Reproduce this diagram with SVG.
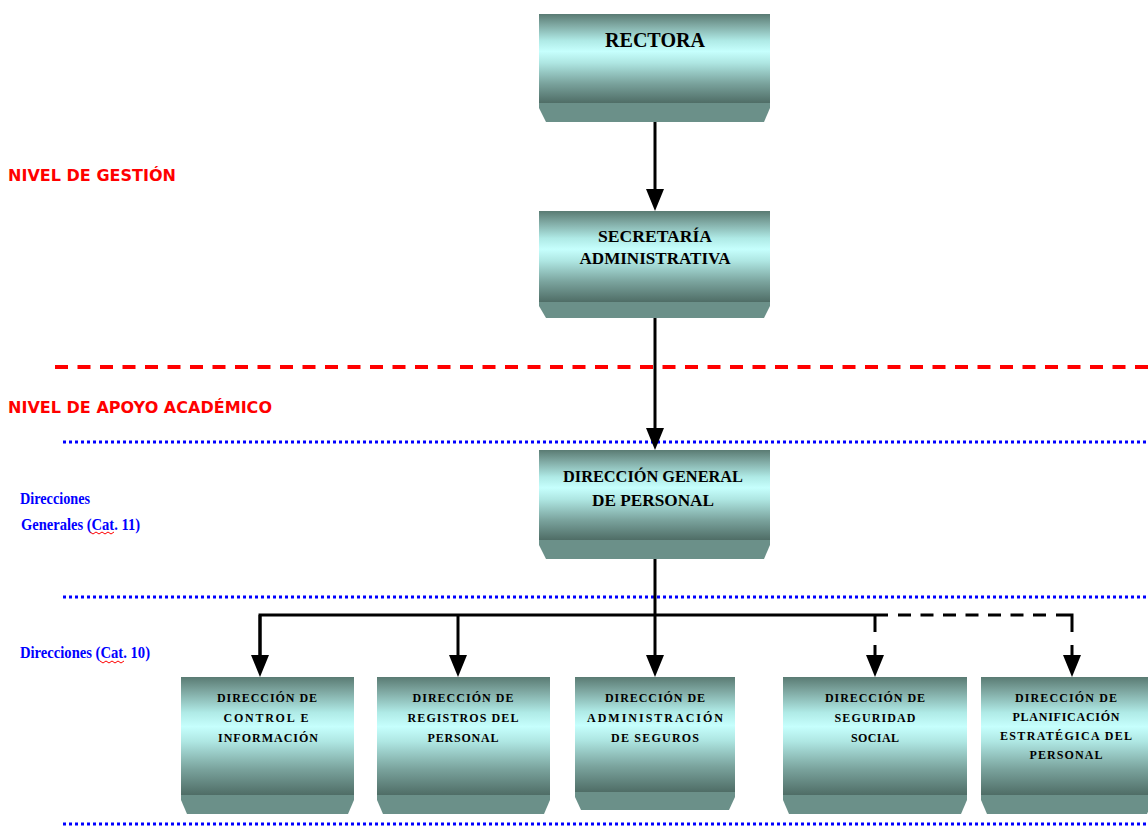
<svg xmlns="http://www.w3.org/2000/svg" width="1148" height="826" viewBox="0 0 1148 826">
<style>
.body{fill:url(#g);}
.trap{fill:#6b9089;}
.t1{font-family:"Liberation Serif","DejaVu Serif",serif;font-weight:bold;fill:#000;text-anchor:middle;}
.big{font-size:20px;}
.mid{font-size:17px;}
.sm{font-size:12px;}
.lvl{font-family:"DejaVu Sans","Liberation Sans",sans-serif;font-weight:bold;font-size:16px;fill:#ff0000;}
.cat{font-family:"Liberation Serif","DejaVu Serif",serif;font-weight:bold;font-size:16px;fill:#0000ff;}
.con{stroke:#000;stroke-width:3;fill:none;}
.blue{stroke:#0000ff;stroke-width:3;stroke-dasharray:3 3;fill:none;}
.red{stroke:#ff0000;stroke-width:4;stroke-dasharray:13 9.5;fill:none;}
.sq{stroke:#ff0000;stroke-width:1;fill:none;}
</style>
<defs>
<linearGradient id="g" x1="0" y1="0" x2="0" y2="1">
<stop offset="0" stop-color="#5a7b73"/>
<stop offset="0.12" stop-color="#7ea7a1"/>
<stop offset="0.3" stop-color="#afeae6"/>
<stop offset="0.42" stop-color="#c6fffd"/>
<stop offset="0.55" stop-color="#aee6e2"/>
<stop offset="0.78" stop-color="#7aa39d"/>
<stop offset="1" stop-color="#4f6d66"/>
</linearGradient>
<marker id="arr" viewBox="0 0 22 18" refX="12" refY="9" markerWidth="22" markerHeight="18" markerUnits="userSpaceOnUse" orient="auto">
<path d="M0,0 L22,9 L0,18 z" fill="#000"/>
</marker>
</defs>
<rect width="1148" height="826" fill="#fff"/>

<!-- level lines -->
<g id="levels">
<path class="red" d="M55,367 H1148"/>
<path class="blue" d="M63,442 H1148"/>
<path class="blue" d="M63,597 H1148"/>
<path class="blue" d="M63,824 H1148"/>
<text class="lvl" x="8" y="181" textLength="168" lengthAdjust="spacing">NIVEL DE GESTIÓN</text>
<text class="lvl" x="8" y="413" textLength="264" lengthAdjust="spacing">NIVEL DE APOYO ACADÉMICO</text>
<text class="cat" x="20" y="504" textLength="70" lengthAdjust="spacingAndGlyphs">Direcciones</text>
<text class="cat" x="21" y="530" textLength="119" lengthAdjust="spacingAndGlyphs">Generales (Cat. 11)</text>
<text class="cat" x="20" y="658" textLength="130" lengthAdjust="spacingAndGlyphs">Direcciones (Cat. 10)</text>
<path class="sq" d="M90,532 l3,2 l3,-2 l3,2 l3,-2 l3,2 l3,-2 l3,2 l3,-2"/>
<path class="sq" d="M100,661 l3,2 l3,-2 l3,2 l3,-2 l3,2 l3,-2 l3,2 l3,-2"/>
</g>

<g id="connectors">
<path class="con" d="M655,122 V201" marker-end="url(#arr)"/>
<path class="con" d="M655,318 V440" marker-end="url(#arr)"/>
<path class="con" d="M655,559 V667" marker-end="url(#arr)"/>
<path class="con" d="M260,667 V615 H888"/>
<path class="con" d="M260,615 V667" marker-end="url(#arr)"/>
<path class="con" d="M458,615 V667" marker-end="url(#arr)"/>
<path class="con" d="M875,615 V632"/>
<path class="con" d="M875,645 V667" marker-end="url(#arr)"/>
<path class="con" stroke-dasharray="13 9.5" d="M898,615 H1046"/>
<path class="con" d="M1056,615 H1072 V632"/>
<path class="con" d="M1072,645 V667" marker-end="url(#arr)"/>
</g>

<g id="rectora">
<rect class="body" x="539" y="14" width="231" height="89"/>
<path class="trap" d="M539,103 V108 L546,122 H764 L770,108 V103 z"/>
<text class="t1 big" x="655" y="47" textLength="100" lengthAdjust="spacingAndGlyphs">RECTORA</text>
</g>

<g id="secretaria">
<rect class="body" x="539" y="211" width="231" height="91"/>
<path class="trap" d="M539,302 V306 L546,318 H764 L770,306 V302 z"/>
<text class="t1 mid" x="655" y="242" textLength="114" lengthAdjust="spacingAndGlyphs">SECRETARÍA</text>
<text class="t1 mid" x="655" y="264" textLength="151" lengthAdjust="spacingAndGlyphs">ADMINISTRATIVA</text>
</g>

<g id="dgp">
<rect class="body" x="539" y="450" width="231" height="90"/>
<path class="trap" d="M539,540 V545 L546,559 H764 L770,545 V540 z"/>
<text class="t1 mid" x="653" y="482" textLength="180" lengthAdjust="spacingAndGlyphs">DIRECCIÓN GENERAL</text>
<text class="t1 mid" x="653" y="506" textLength="122" lengthAdjust="spacingAndGlyphs">DE PERSONAL</text>
</g>

<g id="d1">
<rect class="body" x="181" y="677" width="173" height="118"/>
<path class="trap" d="M181,795 V800 L187,814 H348 L354,800 V795 z"/>
<text class="t1 sm" x="267" y="702" textLength="100" lengthAdjust="spacing">DIRECCIÓN DE</text>
<text class="t1 sm" x="266" y="722" textLength="85" lengthAdjust="spacing">CONTROL E</text>
<text class="t1 sm" x="268" y="742" textLength="100" lengthAdjust="spacing">INFORMACIÓN</text>
</g>

<g id="d2">
<rect class="body" x="377" y="677" width="173" height="118"/>
<path class="trap" d="M377,795 V800 L383,814 H544 L550,800 V795 z"/>
<text class="t1 sm" x="463" y="702" textLength="101" lengthAdjust="spacing">DIRECCIÓN DE</text>
<text class="t1 sm" x="463" y="722" textLength="111" lengthAdjust="spacing">REGISTROS DEL</text>
<text class="t1 sm" x="463" y="742" textLength="71" lengthAdjust="spacing">PERSONAL</text>
</g>

<g id="d3">
<rect class="body" x="575" y="677" width="160" height="115"/>
<path class="trap" d="M575,792 V797 L581,810 H729 L735,797 V792 z"/>
<text class="t1 sm" x="655" y="702" textLength="100" lengthAdjust="spacing">DIRECCIÓN DE</text>
<text class="t1 sm" x="655" y="722" textLength="136" lengthAdjust="spacing">ADMINISTRACIÓN</text>
<text class="t1 sm" x="655" y="742" textLength="88" lengthAdjust="spacing">DE SEGUROS</text>
</g>

<g id="d4">
<rect class="body" x="783" y="677" width="184" height="118"/>
<path class="trap" d="M783,795 V800 L789,814 H961 L967,800 V795 z"/>
<text class="t1 sm" x="875" y="702" textLength="100" lengthAdjust="spacing">DIRECCIÓN DE</text>
<text class="t1 sm" x="875" y="722" textLength="81" lengthAdjust="spacing">SEGURIDAD</text>
<text class="t1 sm" x="875" y="742" textLength="48" lengthAdjust="spacing">SOCIAL</text>
</g>

<g id="d5">
<rect class="body" x="981" y="677" width="172" height="118"/>
<path class="trap" d="M981,795 V800 L987,814 H1147 L1153,800 V795 z"/>
<text class="t1 sm" x="1066" y="702" textLength="102" lengthAdjust="spacing">DIRECCIÓN DE</text>
<text class="t1 sm" x="1066" y="721" textLength="107" lengthAdjust="spacing">PLANIFICACIÓN</text>
<text class="t1 sm" x="1066" y="740" textLength="132" lengthAdjust="spacing">ESTRATÉGICA DEL</text>
<text class="t1 sm" x="1066" y="759" textLength="73" lengthAdjust="spacing">PERSONAL</text>
</g>
</svg>
